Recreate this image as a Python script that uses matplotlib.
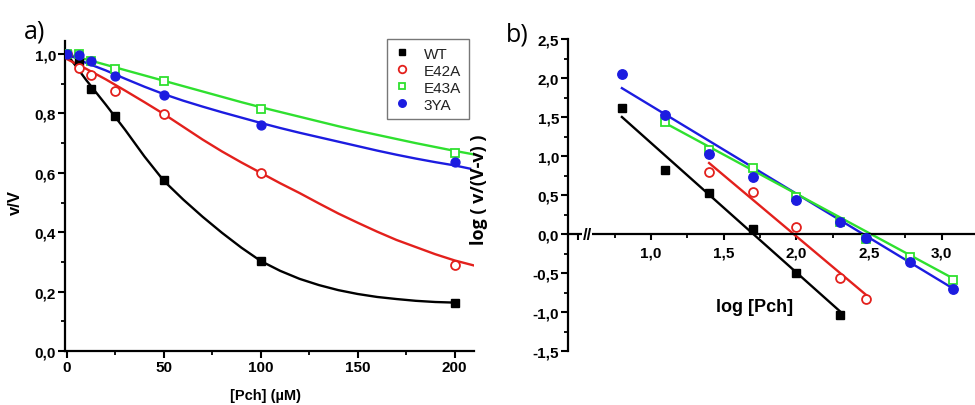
import matplotlib
matplotlib.use("Agg")
import matplotlib.pyplot as plt
from matplotlib.ticker import MultipleLocator, FuncFormatter

# ---------------- data: panel a ----------------
conc = [0, 6.25, 12.5, 25, 50, 100, 200]
wt_a = [1.0, 0.975, 0.882, 0.79, 0.575, 0.302, 0.163]
e42a_a = [1.0, 0.952, 0.929, 0.876, 0.798, 0.598, 0.291]
e43a_a = [1.0, 1.0, 0.978, 0.95, 0.908, 0.815, 0.667]
ya3_a = [1.0, 0.997, 0.978, 0.927, 0.863, 0.761, 0.638]

# fitted curves
fit_x = [0, 10, 20, 30, 40, 50, 60, 70, 80, 90, 100, 110, 120, 130, 140, 150, 160, 170, 180, 190, 200, 210]
wt_fit = [1.0, 0.912, 0.83, 0.745, 0.655, 0.573, 0.51, 0.452, 0.398, 0.348, 0.303, 0.27, 0.243, 0.222,
          0.205, 0.192, 0.182, 0.175, 0.169, 0.165, 0.163]
e42a_fit = [0.983, 0.95, 0.915, 0.877, 0.838, 0.798, 0.755, 0.712, 0.672, 0.635, 0.60, 0.565, 0.532,
            0.497, 0.463, 0.432, 0.402, 0.374, 0.35, 0.326, 0.305, 0.288]
e43a_fit = [1.0, 0.982, 0.964, 0.946, 0.928, 0.91, 0.892, 0.874, 0.856, 0.838, 0.821, 0.805, 0.789,
            0.773, 0.757, 0.742, 0.728, 0.714, 0.7, 0.687, 0.674, 0.662]
ya3_fit = [1.0, 0.97, 0.945, 0.917, 0.89, 0.865, 0.843, 0.823, 0.804, 0.786, 0.768, 0.751, 0.735,
           0.72, 0.705, 0.69, 0.675, 0.661, 0.648, 0.636, 0.625, 0.614]

# ---------------- data: panel b ----------------
logc = [0.8, 1.1, 1.4, 1.7, 2.0, 2.3, 2.48, 2.78, 3.08]
wt_b = [1.61, 0.82, 0.52, 0.06, -0.50, -1.04]
e42a_b = [0.80, 0.54, 0.09, -0.57, -0.83]
e43a_b = [1.43, 1.08, 0.84, 0.48, 0.16, -0.07, -0.30, -0.59]
ya3_b = [2.05, 1.52, 1.02, 0.73, 0.43, 0.15, -0.05, -0.36, -0.71]

wt_line_x, wt_line_y = [0.8, 2.3], [1.50, -0.99]
e42a_line_x, e42a_line_y = [1.4, 2.48], [0.91, -0.78]
e43a_line_x, e43a_line_y = [1.1, 3.08], [1.42, -0.57]
ya3_line_x, ya3_line_y = [0.8, 3.08], [1.87, -0.70]

labels = ["WT", "E42A", "E43A", "3YA"]
BLACK, RED, GREEN, BLUE = "#000000", "#e3201c", "#2fe02f", "#1c1ce0"

plt.rcParams["font.family"] = ["Liberation Sans", "DejaVu Sans"]

fig = plt.figure(figsize=(9.75, 4.06), dpi=100)
axa = fig.add_axes([65 / 975, 54 / 406, 409 / 975, 310 / 406])
axb = fig.add_axes([568 / 975, 54 / 406, 407 / 975, 312 / 406])

comma = FuncFormatter(lambda v, p: ("%.1f" % v).replace(".", ","))
comma0 = FuncFormatter(lambda v, p: "%d" % round(v))

def style(ax):
    for s in ["top", "right"]:
        ax.spines[s].set_visible(False)
    for s in ["left", "bottom"]:
        ax.spines[s].set_linewidth(1.6)
    ax.tick_params(which="major", direction="out", length=5, width=1.5, labelsize=11, pad=1.5)
    ax.tick_params(which="minor", direction="out", length=3, width=1.3)
    for lab in ax.get_xticklabels() + ax.get_yticklabels():
        lab.set_fontweight("bold")

ms_sq, ms_ci = 5.8, 6.4
lw = 1.7

# ---------------- panel a ----------------
axa.plot(fit_x[:len(wt_fit)], wt_fit, color=BLACK, lw=lw, zorder=2)
axa.plot(fit_x, e42a_fit, color=RED, lw=lw, zorder=2)
axa.plot(fit_x, e43a_fit, color=GREEN, lw=lw, zorder=2)
axa.plot(fit_x[:-1] + [208], ya3_fit, color=BLUE, lw=lw, zorder=2)

h1, = axa.plot(conc, wt_a, ls="none", marker="s", ms=ms_sq, color=BLACK, zorder=3)
h2, = axa.plot(conc, e42a_a, ls="none", marker="o", ms=ms_ci, mfc="white", mec=RED, mew=1.3, zorder=3)
h3, = axa.plot(conc, e43a_a, ls="none", marker="s", ms=ms_sq, mfc="white", mec=GREEN, mew=1.3, zorder=3)
h4, = axa.plot(conc, ya3_a, ls="none", marker="o", ms=ms_ci, color=BLUE, zorder=3)

axa.set_xlim(-1, 210)
axa.set_ylim(0, 1.044)
axa.xaxis.set_major_locator(MultipleLocator(50))
axa.xaxis.set_minor_locator(MultipleLocator(25))
axa.yaxis.set_major_locator(MultipleLocator(0.2))
axa.yaxis.set_minor_locator(MultipleLocator(0.1))
axa.yaxis.set_major_formatter(comma)
axa.xaxis.set_major_formatter(comma0)
style(axa)

fig.text(15 / 975, 1 - 203 / 406, "v/V", rotation=90, ha="center", va="center",
         fontsize=12, fontweight="bold")
fig.text(265 / 975, 1 - 396 / 406, "[Pch] (µM)", ha="center", va="center",
         fontsize=10.5, fontweight="bold")

leg = fig.legend([h1, h2, h3, h4], labels, loc="upper left",
                 bbox_to_anchor=(387 / 975, 1 - 40 / 406), fontsize=11,
                 frameon=True, fancybox=False, edgecolor="#555555",
                 handlelength=1.0, handletextpad=0.9, labelspacing=0.2,
                 borderpad=0.5, borderaxespad=0, markerscale=0.85)
leg.get_frame().set_linewidth(1.0)
leg._legend_box.align = "left"
for t in leg.get_texts():
    t.set_color("#222222")

# ---------------- panel b ----------------
axb.plot(wt_line_x, wt_line_y, color=BLACK, lw=lw, zorder=2)
axb.plot(e42a_line_x, e42a_line_y, color=RED, lw=lw, zorder=2)
axb.plot(ya3_line_x, ya3_line_y, color=BLUE, lw=lw, zorder=2)
axb.plot(e43a_line_x, e43a_line_y, color=GREEN, lw=lw, zorder=2)

axb.plot(logc[:len(wt_b)], wt_b, ls="none", marker="s", ms=ms_sq + 0.4, color=BLACK, zorder=3)
axb.plot(logc[2:2 + len(e42a_b)], e42a_b, ls="none", marker="o", ms=ms_ci, mfc="white",
         mec=RED, mew=1.3, zorder=3)
axb.plot(logc[1:1 + len(e43a_b)], e43a_b, ls="none", marker="s", ms=ms_sq, mfc="white",
         mec=GREEN, mew=1.3, zorder=3)
axb.plot(logc[:len(ya3_b)], ya3_b, ls="none", marker="o", ms=ms_ci + 0.4, color=BLUE, zorder=3)

axb.set_xlim(0.429, 3.23)
axb.set_ylim(-1.5, 2.5)
axb.spines["bottom"].set_position(("data", 0))
axb.xaxis.set_major_locator(MultipleLocator(0.5))
axb.xaxis.set_minor_locator(MultipleLocator(0.25))
axb.yaxis.set_major_locator(MultipleLocator(0.5))
axb.yaxis.set_minor_locator(MultipleLocator(0.25))
axb.xaxis.set_major_formatter(FuncFormatter(
    lambda v, p: "" if v < 0.9 else ("%.1f" % v).replace(".", ",")))
axb.yaxis.set_major_formatter(comma)
style(axb)
axb.tick_params(axis="x", which="major", length=4, pad=4)
axb.text(0.56, 0, "//", ha="center", va="center", fontsize=12, fontweight="bold",
         zorder=4, bbox=dict(facecolor="white", edgecolor="none", pad=0.0))

fig.text(755 / 975, 1 - 308 / 406, "log [Pch]", ha="center", va="center",
         fontsize=13, fontweight="bold")
fig.text(479 / 975, 1 - 190 / 406, "log ( v/(V-v) )", rotation=90, ha="center", va="center",
         fontsize=13, fontweight="bold", family=["Open Sans", "DejaVu Sans"])

fig.text(35 / 975, 1 - 32 / 406, "a)", ha="center", va="center", fontsize=18,
         family=["Open Sans", "DejaVu Sans"])
fig.text(517 / 975, 1 - 35 / 406, "b)", ha="center", va="center", fontsize=18,
         family=["Open Sans", "DejaVu Sans"])

fig.savefig("out.png", dpi=100)
